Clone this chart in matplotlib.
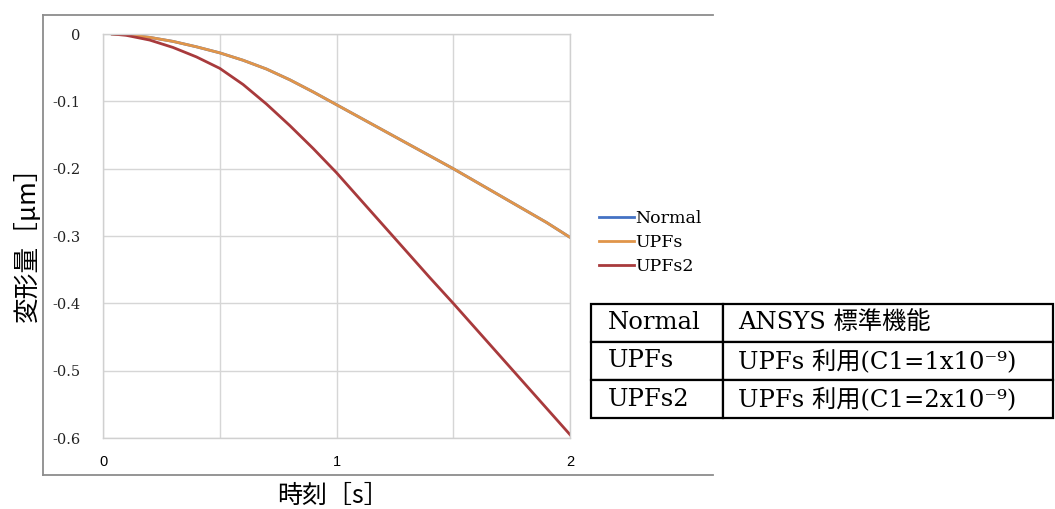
import matplotlib.pyplot as plt
from matplotlib.lines import Line2D

# data
time = [0.04, 0.1, 0.2, 0.3, 0.4, 0.5, 0.6, 0.7, 0.8, 0.9, 1.0,
        1.1, 1.2, 1.3, 1.4, 1.5, 1.6, 1.7, 1.8, 1.9, 2.0]
upfs = [0.0, -0.001, -0.005, -0.011, -0.019, -0.028, -0.039, -0.052, -0.068, -0.086, -0.105,
        -0.124, -0.143, -0.162, -0.181, -0.200, -0.220, -0.240, -0.260, -0.280, -0.302]
normal = list(upfs)  # hidden under UPFs in the original
upfs2 = [0.0, -0.002, -0.009, -0.020, -0.034, -0.051, -0.075, -0.104, -0.136, -0.170, -0.206,
         -0.245, -0.284, -0.323, -0.362, -0.400, -0.439, -0.478, -0.517, -0.556, -0.595]
series_names = ["Normal", "UPFs", "UPFs2"]
series_colors = ["#4472c4", "#e0954a", "#a83a3c"]
yticks = [0, -0.1, -0.2, -0.3, -0.4, -0.5, -0.6]
xticks = [0, 1, 2]
table_rows = [
    ["Normal", "ANSYS 標準機能"],
    ["UPFs", "UPFs 利用(C1=1x10⁻⁹)"],
    ["UPFs2", "UPFs 利用(C1=2x10⁻⁹)"],
]

W, H = 1055, 509
fig = plt.figure(figsize=(W / 100, H / 100), dpi=100)


def fx(px):
    return px / W


def fy(py):
    return 1 - py / H


# chart area frame (top, left, bottom only)
frame = dict(color="#8c8c8c", lw=1.3, transform=fig.transFigure)
fig.add_artist(Line2D([fx(43), fx(713)], [fy(15), fy(15)], **frame))
fig.add_artist(Line2D([fx(43), fx(43)], [fy(15), fy(475)], **frame))
fig.add_artist(Line2D([fx(43), fx(713)], [fy(475), fy(475)], **frame))

ax = fig.add_axes([fx(103), fy(438), fx(570 - 103), (438 - 34) / H])
for y, name, c in zip([normal, upfs, upfs2], series_names, series_colors):
    ax.plot(time, y, color=c, lw=2.0, label=name)

ax.set_xlim(0, 2)
ax.set_ylim(-0.6, 0)
ax.set_xticks([0.5, 1.5], minor=True)
ax.set_xticks(xticks)
ax.set_xticklabels([str(v) for v in xticks], family="Liberation Sans", fontsize=10.5)
ax.set_yticks(yticks)
ax.set_yticklabels(["0" if v == 0 else f"{v:.1f}" for v in yticks],
                   family="DejaVu Serif", fontsize=10.5, color="#222222")
ax.tick_params(which="both", length=0)
ax.tick_params(axis="x", pad=12)
ax.tick_params(axis="y", pad=16)
ax.grid(True, which="both", color="#d6d6d6", lw=1.0)
for s in ax.spines.values():
    s.set_color("#d0d0d0")
    s.set_linewidth(1.0)

fig.text(fx(27), fy(238), "変形量［μm］", rotation=90, ha="center", va="center",
         family=["Noto Sans CJK JP", "DejaVu Sans"], fontsize=18.5)
fig.text(fx(333), fy(496), "時刻［s］", ha="center", va="center",
         family=["Noto Sans CJK JP", "DejaVu Sans"], fontsize=18)

leg = fig.legend(loc="upper left", bbox_to_anchor=(fx(592), fy(203)),
                 frameon=False, handlelength=2.0, handletextpad=0.1,
                 labelspacing=0.4, borderaxespad=0,
                 prop=dict(family="DejaVu Serif", size=12.5))

# explanation table
tax = fig.add_axes([fx(591), fy(418), fx(1053 - 591), (418 - 304) / H])
tax.axis("off")
tbl = tax.table(cellText=table_rows, cellLoc="left", bbox=[0, 0, 1, 1],
                colWidths=[132, 330])
tbl.auto_set_font_size(False)
for (r, c), cell in tbl.get_celld().items():
    cell.set_edgecolor("black")
    cell.set_linewidth(1.6)
    cell.PAD = 0.13 if c == 0 else 0.045
    cell.get_text().set_fontsize(17.5)
    cell.get_text().set_family(["DejaVu Serif", "Noto Sans CJK JP"])

fig.savefig("out.png", dpi=100)
